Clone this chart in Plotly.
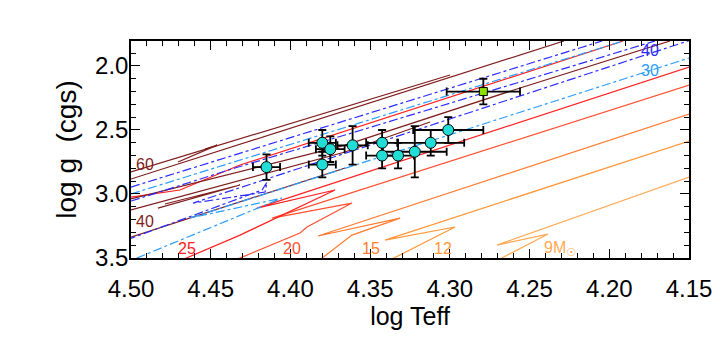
import plotly.graph_objects as go

# observed stars: log Teff, log g and their errors
star_teff = [4.415, 4.380, 4.375, 4.380, 4.361, 4.3425, 4.3425, 4.3325, 4.322, 4.312, 4.301]
star_logg = [2.79, 2.60, 2.65, 2.77, 2.62, 2.60, 2.70, 2.70, 2.67, 2.60, 2.50]
star_teff_err = [0.0085, 0.0085, 0.009, 0.0085, 0.0095, 0.01, 0.01, 0.01, 0.02, 0.021, 0.022]
star_logg_err = [0.1, 0.1, 0.1, 0.1, 0.15, 0.1, 0.1, 0.1, 0.2, 0.1, 0.1]

# the odd one out (green square)
sq_teff = [4.279]
sq_logg = [2.20]
sq_teff_err = [0.023]
sq_logg_err = [0.1]

# evolutionary tracks, solid (non-rotating)
m9_teff = [4.276, 4.2384, 4.2704, 4.1499]
m9_logg = [3.555, 3.313, 3.399, 2.868]
m12_teff = [4.3438, 4.2967, 4.3407, 4.1499]
m12_logg = [3.555, 3.258, 3.360, 2.586]
m15_teff = [4.3858, 4.3802, 4.3614, 4.3312, 4.3827, 4.1499]
m15_logg = [3.555, 3.500, 3.321, 3.188, 3.328, 2.375]
m20_teff = [4.4423, 4.4316, 4.394, 4.3896, 4.3614, 4.4115, 4.1499]
m20_logg = [3.555, 3.500, 3.305, 3.258, 3.071, 3.188, 2.149]
m25_teff = [4.4755, 4.4316, 4.372, 4.421, 4.1499]
m25_logg = [3.555, 3.321, 2.969, 3.110, 2.008]
m25b_teff = [4.500, 4.4693, 4.4316, 4.1913]
m25b_logg = [3.024, 2.969, 2.774, 1.805]
m40_teff = [4.5069, 4.3752, 4.3657]
m40_logg = [3.364, 2.836, 2.797]
m40b_teff = [4.500, 4.4348, 4.3657, 4.256, 4.1619]
m40b_logg = [3.039, 2.836, 2.618, 2.172, 1.805]
m40c_teff = [4.500, 4.4348, 4.3657, 4.3124]
m40c_logg = [3.125, 2.907, 2.672, 2.438]
m40d_teff = [4.4831, 4.4316, 4.4787]
m40d_logg = [3.110, 2.930, 3.078]
m60_teff = [4.500, 4.2999]
m60_logg = [2.828, 2.071]
m60b_teff = [4.500, 4.2284]
m60b_logg = [2.883, 1.805]
m60c_teff = [4.4705, 4.446, 4.4536]
m60c_logg = [2.750, 2.618, 2.649]

# rotating tracks, dash-dot
r30_teff = [4.5069, 4.4053, 4.463, 4.1499]
r30_logg = [3.555, 3.032, 3.188, 1.938]
r30b_teff = [4.500, 4.1913]
r30b_logg = [3.000, 1.805]
r40_teff = [4.5132, 4.4178, 4.4147, 4.4159, 4.4611, 4.143]
r40_logg = [3.407, 2.969, 2.907, 2.985, 3.071, 1.774]
r40b_teff = [4.500, 4.2045]
r40b_logg = [2.946, 1.805]
r40c_teff = [4.500, 4.4348, 4.3657, 4.1713]
r40c_logg = [3.055, 2.797, 2.539, 1.805]

brown = '#7F1D1D'
fig = go.Figure()

solid = [
    (m9_teff, m9_logg, '#FFAA55'),
    (m12_teff, m12_logg, '#FF9638'),
    (m15_teff, m15_logg, '#FF7A2E'),
    (m20_teff, m20_logg, '#FF5030'),
    (m25_teff, m25_logg, '#FF2020'),
    (m25b_teff, m25b_logg, '#FF2020'),
    (m40_teff, m40_logg, brown),
    (m40b_teff, m40b_logg, brown),
    (m40c_teff, m40c_logg, brown),
    (m40d_teff, m40d_logg, brown),
    (m60_teff, m60_logg, brown),
    (m60b_teff, m60b_logg, brown),
    (m60c_teff, m60c_logg, brown),
]
for tx, gy, col in solid:
    fig.add_trace(go.Scatter(x=tx, y=gy, mode='lines',
                             line=dict(color=col, width=1.2)))

dashed = [
    (r30_teff, r30_logg, '#2A9DFF'),
    (r30b_teff, r30b_logg, '#2A9DFF'),
    (r40_teff, r40_logg, '#2B2BFF'),
    (r40b_teff, r40b_logg, '#2B2BFF'),
    (r40c_teff, r40c_logg, '#2B2BFF'),
]
for tx, gy, col in dashed:
    fig.add_trace(go.Scatter(x=tx, y=gy, mode='lines',
                             line=dict(color=col, width=1.2, dash='dashdot')))

fig.add_trace(go.Scatter(
    x=star_teff, y=star_logg, mode='markers',
    error_x=dict(type='data', array=star_teff_err, color='black', thickness=1.8, width=4),
    error_y=dict(type='data', array=star_logg_err, color='black', thickness=1.8, width=4),
    marker=dict(size=11, color='#22DDD5', line=dict(color='black', width=1))))
fig.add_trace(go.Scatter(
    x=sq_teff, y=sq_logg, mode='markers',
    error_x=dict(type='data', array=sq_teff_err, color='black', thickness=1.8, width=4),
    error_y=dict(type='data', array=sq_logg_err, color='black', thickness=1.8, width=4),
    marker=dict(size=8, symbol='square', color='#8CE000', line=dict(color='black', width=1))))

labels = [
    (4.4915, 2.766, '60', brown),
    (4.4915, 3.211, '40', brown),
    (4.4646, 3.422, '25', '#FF2020'),
    (4.3993, 3.422, '20', '#FF5030'),
    (4.3494, 3.422, '15', '#FF7A2E'),
    (4.3046, 3.422, '12', '#FF9638'),
    (4.2309, 3.422, '9M<sub>☉</sub>', '#FFAA55'),
    (4.1747, 1.883, '40', '#2B2BFF'),
    (4.1747, 2.032, '30', '#2A9DFF'),
]
for lx, ly, txt, col in labels:
    fig.add_annotation(x=lx, y=ly, text=txt, showarrow=False,
                       font=dict(size=16, color=col))

axis_style = dict(showline=True, linecolor='black', linewidth=1.5, mirror='ticks',
                  ticks='inside', ticklen=9, tickwidth=1.2, tickcolor='black',
                  showgrid=False, zeroline=False,
                  tickfont=dict(size=24, color='black'))
fig.update_xaxes(range=[4.50, 4.15], dtick=0.05, tickformat='.2f',
                 minor=dict(dtick=0.01, ticklen=5, ticks='inside', tickcolor='black'),
                 ticklabelstandoff=8,
                 title=dict(text='log Teff', font=dict(size=25, color='black'), standoff=6),
                 **axis_style)
fig.update_yaxes(range=[3.5, 1.805], dtick=0.5, tickformat='.1f',
                 minor=dict(dtick=0.1, ticklen=5, ticks='inside', tickcolor='black'),
                 ticklabelstandoff=-4,
                 title=dict(text='log g  (cgs)', font=dict(size=28, color='black'), standoff=10),
                 **axis_style)
# the page adds an 8px body margin, so the figure is drawn 8px smaller
fig.update_layout(width=720, height=334, showlegend=False,
                  template='plotly_white',
                  plot_bgcolor='white', paper_bgcolor='white',
                  font=dict(family='Liberation Sans, DejaVu Sans, sans-serif'),
                  margin=dict(l=123, r=39, t=33, b=84, autoexpand=False))

fig.write_html("out.html")
